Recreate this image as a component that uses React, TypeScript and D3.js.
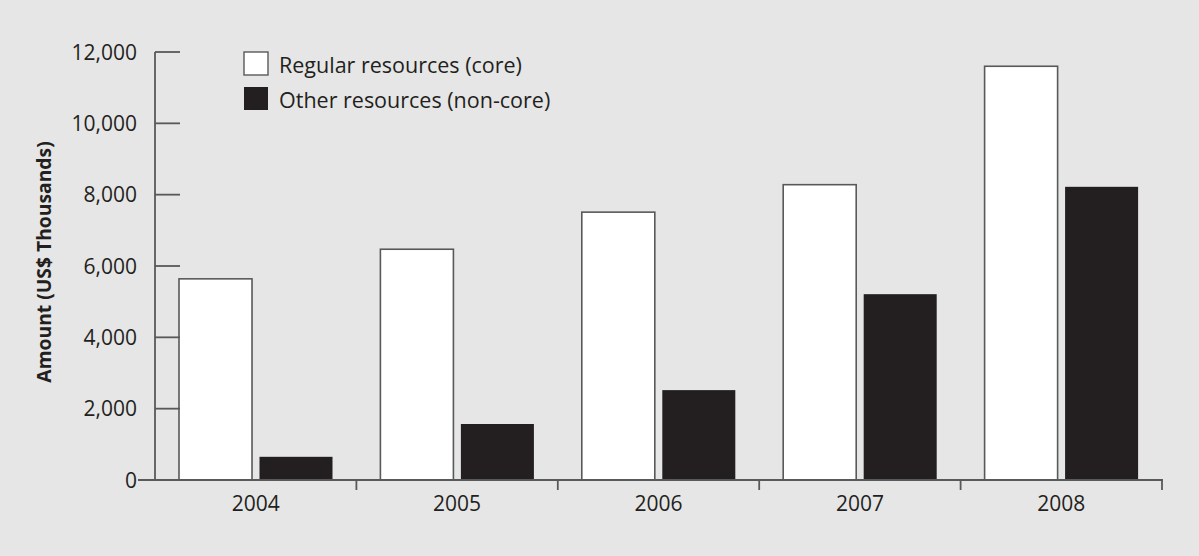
import React from "react";
import * as d3 from "d3";

const years = ["2004", "2005", "2006", "2007", "2008"];
const coreValues = [5640, 6470, 7510, 8280, 11600];
const nonCoreValues = [650, 1570, 2520, 5210, 8220];
const yTicks = [0, 2000, 4000, 6000, 8000, 10000, 12000];
const seriesKeys = ["core", "noncore"];
const seriesLabels = ["Regular resources (core)", "Other resources (non-core)"];

const W = 1199;
const H = 556;
const FONT = "'Open Sans', sans-serif";
const INK = "#231f20";
const AXIS = "#58595b";

const App: React.FC = () => {
  const x0 = d3.scaleBand().domain(years).range([155, 1162]).padding(0);
  const x1 = d3.scaleBand().domain(seriesKeys).range([24, 177.5]).paddingInner(0.093).paddingOuter(0);
  const y = d3.scaleLinear().domain([0, 12000]).range([480, 52]);
  const fmt = d3.format(",");

  const rows = years.map((yr, i) => ({
    year: yr,
    bars: [
      { key: "core", value: coreValues[i] },
      { key: "noncore", value: nonCoreValues[i] },
    ],
  }));

  return (
    <div style={{ position: "absolute", left: 0, top: 0 }}>
      <svg width={W} height={H} style={{ display: "block" }}>
        <rect x={0} y={0} width={W} height={H} fill="#e6e6e6" />

        {/* bars */}
        {rows.map((r) => (
          <g key={r.year} transform={`translate(${x0(r.year)},0)`}>
            {r.bars.map((b) =>
              b.key === "core" ? (
                <rect
                  key={b.key}
                  x={x1(b.key)!}
                  y={y(b.value)}
                  width={x1.bandwidth()}
                  height={y(0) - y(b.value)}
                  fill="#ffffff"
                  stroke={AXIS}
                  strokeWidth={1.6}
                />
              ) : (
                <rect
                  key={b.key}
                  x={x1(b.key)!}
                  y={y(b.value)}
                  width={x1.bandwidth()}
                  height={y(0) - y(b.value)}
                  fill={INK}
                />
              )
            )}
          </g>
        ))}

        {/* y axis */}
        <line x1={155} x2={155} y1={y(12000)} y2={y(0)} stroke={AXIS} strokeWidth={1.8} />
        {yTicks.map((t) => (
          <g key={t}>
            <line x1={155} x2={180} y1={y(t)} y2={y(t)} stroke={AXIS} strokeWidth={1.8} />
            <text
              x={137}
              y={y(t)}
              dy="0.36em"
              textAnchor="end"
              fontFamily={FONT}
              fontSize={21}
              fill={INK}
            >
              {fmt(t)}
            </text>
          </g>
        ))}

        {/* x axis */}
        <line x1={138} x2={1163} y1={y(0)} y2={y(0)} stroke={AXIS} strokeWidth={1.8} />
        {years.map((yr) => (
          <g key={yr}>
            <line
              x1={x0(yr)! + x0.bandwidth()}
              x2={x0(yr)! + x0.bandwidth()}
              y1={y(0)}
              y2={y(0) + 10}
              stroke={AXIS}
              strokeWidth={1.8}
            />
            <text
              x={x0(yr)! + x0.bandwidth() / 2}
              y={511}
              textAnchor="middle"
              fontFamily={FONT}
              fontSize={21}
              fill={INK}
            >
              {yr}
            </text>
          </g>
        ))}

        {/* y axis title */}
        <text
          transform={`translate(51,${(y(0) + y(12000)) / 2 - 4}) rotate(-90)`}
          textAnchor="middle"
          fontFamily={FONT}
          fontWeight="bold"
          fontSize={19.3}
          fill={INK}
        >
          Amount (US$ Thousands)
        </text>

        {/* legend */}
        {seriesLabels.map((lab, i) => (
          <g key={lab} transform={`translate(244,${52 + i * 35})`}>
            <rect
              x={0}
              y={0}
              width={24}
              height={23}
              fill={i === 0 ? "#ffffff" : INK}
              stroke={i === 0 ? AXIS : "none"}
              strokeWidth={1.4}
            />
            <text x={35} y={21} fontFamily={FONT} fontSize={21.5} fill={INK}>
              {lab}
            </text>
          </g>
        ))}
      </svg>
    </div>
  );
};

export default App;
